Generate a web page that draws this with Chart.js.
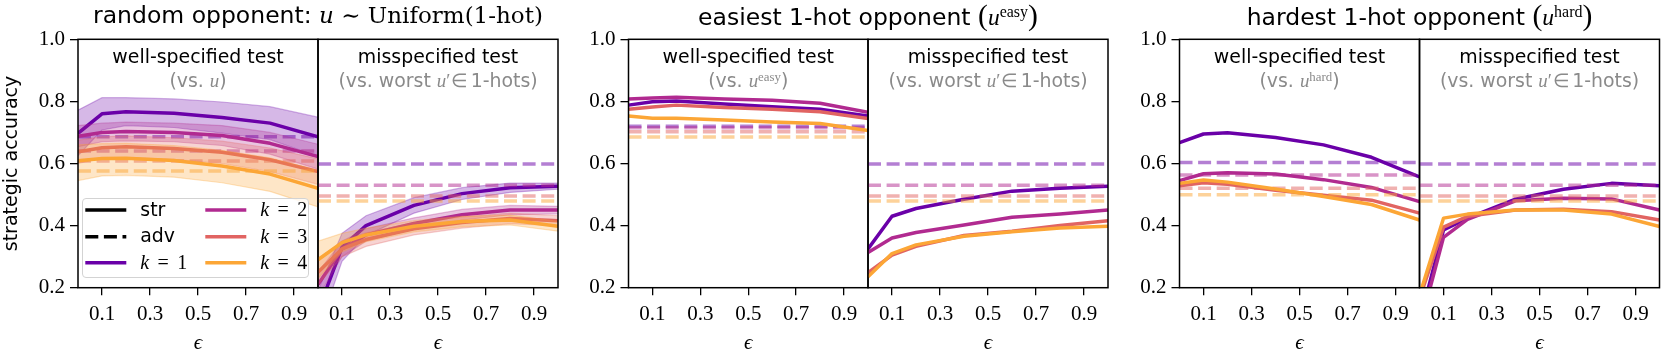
<!DOCTYPE html>
<html>
<head>
<meta charset="utf-8">
<script src="https://cdn.jsdelivr.net/npm/chart.js@4.4.0/dist/chart.umd.min.js"></script>
<style>
html, body { margin: 0; padding: 0; background: #fff; }
#wrap { position: relative; width: 1661px; height: 352px; overflow: hidden; font-family: 'DejaVu Sans'; color: #000; }
#wrap canvas { position: absolute; top: 0; }
.t { position: absolute; white-space: nowrap; line-height: 1em; transform: translateX(-50%); }
.l { position: absolute; white-space: nowrap; line-height: 1em; }
.m { font-family: 'Liberation Serif'; }
.mi { font-family: 'Liberation Serif'; font-style: italic; }
.dm { font-family: 'DejaVu Serif'; font-size: 98%; }
.dmi { font-family: 'DejaVu Serif'; font-style: italic; font-size: 98%; }
.big { font-size: 126%; }
.gray { color: #8a8a8a; }
sup.m { font-size: 68%; vertical-align: 0.5em; line-height: 0; }
.eq { margin: 0 0.42em; }
.rel { margin: 0 0.12em 0 0.05em; }
#leg { position: absolute; left: 82px; top: 198px; width: 227px; height: 80px; box-sizing: border-box;
       border: 1.2px solid #d3d3d3; border-radius: 4px; background: rgba(255,255,255,0.8); }
#hand { position: absolute; left: 0; top: 0; }
</style>
</head>
<body>
<div id="wrap"></div>
<script>
// eixo x (epsilon) e ticks
const eps = [0, 0.1, 0.2, 0.4, 0.6, 0.8, 1.0];
const xTicks = [0.1, 0.3, 0.5, 0.7, 0.9];
const yTicks = [0.2, 0.4, 0.6, 0.8, 1.0];
const kNames = ['1', '2', '3', '4'];

// random opponent - well-specified (com faixas)
const randWell_k1 = [0.697, 0.760, 0.767, 0.762, 0.748, 0.730, 0.686];
const randWell_k2 = [0.688, 0.700, 0.703, 0.700, 0.690, 0.665, 0.622];
const randWell_k3 = [0.638, 0.651, 0.654, 0.648, 0.636, 0.612, 0.574];
const randWell_k4 = [0.609, 0.616, 0.617, 0.610, 0.592, 0.566, 0.520];
const randWell_k1_hi = [0.772, 0.812, 0.812, 0.808, 0.798, 0.783, 0.749];
const randWell_k1_lo = [0.625, 0.708, 0.722, 0.716, 0.698, 0.677, 0.623];
const randWell_k2_hi = [0.722, 0.730, 0.733, 0.730, 0.722, 0.700, 0.662];
const randWell_k2_lo = [0.654, 0.670, 0.673, 0.670, 0.658, 0.630, 0.582];
const randWell_k3_hi = [0.675, 0.686, 0.689, 0.683, 0.672, 0.650, 0.615];
const randWell_k3_lo = [0.600, 0.616, 0.619, 0.613, 0.600, 0.574, 0.533];
const randWell_k4_hi = [0.660, 0.664, 0.665, 0.658, 0.642, 0.618, 0.578];
const randWell_k4_lo = [0.545, 0.560, 0.562, 0.556, 0.538, 0.510, 0.460];
const randWell_adv = [0.686, 0.640, 0.608, 0.576];

// random opponent - misspecified
const randMis_k1 = [0.125, 0.330, 0.400, 0.465, 0.503, 0.522, 0.527];
const randMis_k2 = [0.210, 0.325, 0.370, 0.407, 0.435, 0.450, 0.450];
const randMis_k3 = [0.250, 0.325, 0.355, 0.390, 0.410, 0.423, 0.416];
const randMis_k4 = [0.290, 0.345, 0.370, 0.398, 0.413, 0.418, 0.398];
const randMis_k1_hi = [0.190, 0.375, 0.432, 0.490, 0.522, 0.537, 0.537];
const randMis_k1_lo = [0.060, 0.285, 0.368, 0.440, 0.484, 0.507, 0.517];
const randMis_k2_hi = [0.250, 0.350, 0.390, 0.425, 0.452, 0.465, 0.462];
const randMis_k2_lo = [0.170, 0.300, 0.350, 0.389, 0.418, 0.435, 0.438];
const randMis_k3_hi = [0.290, 0.350, 0.377, 0.410, 0.428, 0.440, 0.432];
const randMis_k3_lo = [0.210, 0.300, 0.333, 0.370, 0.392, 0.406, 0.400];
const randMis_k4_hi = [0.350, 0.375, 0.392, 0.416, 0.430, 0.434, 0.414];
const randMis_k4_lo = [0.230, 0.315, 0.348, 0.380, 0.396, 0.402, 0.382];
const randMis_adv = [0.598, 0.530, 0.495, 0.479];

// easiest 1-hot
const easyWell_k1 = [0.788, 0.799, 0.801, 0.792, 0.783, 0.775, 0.753];
const easyWell_k2 = [0.808, 0.811, 0.813, 0.808, 0.804, 0.794, 0.765];
const easyWell_k3 = [0.775, 0.782, 0.788, 0.780, 0.775, 0.767, 0.745];
const easyWell_k4 = [0.753, 0.746, 0.746, 0.740, 0.734, 0.729, 0.706];
const easyWell_adv = [0.720, 0.715, 0.702, 0.685];
const easyMis_k1 = [0.325, 0.430, 0.455, 0.485, 0.511, 0.520, 0.527];
const easyMis_k2 = [0.313, 0.360, 0.378, 0.402, 0.427, 0.437, 0.450];
const easyMis_k3 = [0.248, 0.305, 0.333, 0.368, 0.382, 0.400, 0.416];
const easyMis_k4 = [0.235, 0.310, 0.338, 0.366, 0.380, 0.392, 0.398];
const easyMis_adv = [0.598, 0.530, 0.495, 0.479];

// hardest 1-hot
const hardWell_k1 = [0.667, 0.695, 0.699, 0.684, 0.660, 0.620, 0.557];
const hardWell_k2 = [0.545, 0.567, 0.570, 0.566, 0.548, 0.523, 0.477];
const hardWell_k3 = [0.528, 0.538, 0.533, 0.514, 0.498, 0.482, 0.440];
const hardWell_k4 = [0.536, 0.547, 0.540, 0.518, 0.494, 0.468, 0.418];
const hardWell_adv = [0.603, 0.563, 0.520, 0.499];
const hardMis_k1 = [0.090, 0.386, 0.424, 0.485, 0.517, 0.536, 0.528];
const hardMis_k2 = [0.070, 0.362, 0.420, 0.480, 0.488, 0.486, 0.450];
const hardMis_k3 = [0.165, 0.395, 0.430, 0.450, 0.453, 0.445, 0.418];
const hardMis_k4 = [0.175, 0.424, 0.437, 0.450, 0.450, 0.437, 0.397];
const hardMis_adv = [0.598, 0.530, 0.495, 0.479];

const kCores = [[106, 0, 168], [177, 42, 144], [225, 100, 98], [252, 166, 54]];

const H = 352, TOPO = 39.3, BASE = 287.7;
const wrap = document.getElementById('wrap');

function rgba(c, a) { return `rgba(${c[0]},${c[1]},${c[2]},${a})`; }
function pts(ys) { return eps.map((x, i) => ({ x: x, y: ys[i] })); }

const paineis = [
  { L: 78, R: 318, ylab: true, first: true,
    lines: [randWell_k1, randWell_k2, randWell_k3, randWell_k4], adv: randWell_adv,
    bands: [[randWell_k1_hi, randWell_k1_lo], [randWell_k2_hi, randWell_k2_lo], [randWell_k3_hi, randWell_k3_lo], [randWell_k4_hi, randWell_k4_lo]] },
  { L: 318, R: 558, ylab: false,
    lines: [randMis_k1, randMis_k2, randMis_k3, randMis_k4], adv: randMis_adv,
    bands: [[randMis_k1_hi, randMis_k1_lo], [randMis_k2_hi, randMis_k2_lo], [randMis_k3_hi, randMis_k3_lo], [randMis_k4_hi, randMis_k4_lo]] },
  { L: 628.5, R: 868, ylab: true,
    lines: [easyWell_k1, easyWell_k2, easyWell_k3, easyWell_k4], adv: easyWell_adv },
  { L: 868, R: 1108, ylab: false,
    lines: [easyMis_k1, easyMis_k2, easyMis_k3, easyMis_k4], adv: easyMis_adv },
  { L: 1179.5, R: 1419.5, ylab: true,
    lines: [hardWell_k1, hardWell_k2, hardWell_k3, hardWell_k4], adv: hardWell_adv },
  { L: 1419.5, R: 1659.5, ylab: false,
    lines: [hardMis_k1, hardMis_k2, hardMis_k3, hardMis_k4], adv: hardMis_adv }
];

// moldura preta em volta da area
const moldura = {
  id: 'moldura',
  afterDraw(chart) {
    const { ctx, chartArea: a } = chart;
    ctx.save();
    ctx.strokeStyle = '#000';
    ctx.lineWidth = 1.5;
    ctx.strokeRect(a.left, a.top, a.right - a.left, a.bottom - a.top);
    ctx.restore();
  }
};

const fonteTick = { family: 'Liberation Serif', size: 21 };

function criarPainel(p) {
  const left = p.first ? 0 : (p.ylab ? Math.floor(p.L) - 60 : Math.floor(p.L) - 2);
  const right = Math.ceil(p.R) + 2;
  const cv = document.createElement('canvas');
  cv.width = right - left;
  cv.height = H;
  cv.style.left = left + 'px';
  wrap.appendChild(cv);
  const yw = p.L - left;

  const ds = [];
  let seq = 0;
  for (let k = 0; k < 4; k++) {
    const c = kCores[k];
    if (p.bands) {
      ds.push({ data: pts(p.bands[k][0]), borderColor: rgba(c, 0.3), borderWidth: 1.2, pointRadius: 0,
                fill: false, clip: 0, order: 1000 - seq++ });
      ds.push({ data: pts(p.bands[k][1]), borderColor: rgba(c, 0.3), borderWidth: 1.2, pointRadius: 0,
                backgroundColor: rgba(c, 0.28), fill: '-1', clip: 0, order: 1000 - seq++ });
    }
    ds.push({ data: pts(p.lines[k]), borderColor: rgba(c, 1), borderWidth: 3.5, pointRadius: 0,
              borderJoinStyle: 'round', fill: false, clip: 0, order: 1000 - seq++ });
    ds.push({ data: [{ x: 0, y: p.adv[k] }, { x: 1, y: p.adv[k] }], borderColor: rgba(c, 0.5), borderWidth: 3.5,
              borderDash: [13, 5.6], pointRadius: 0, fill: false, clip: 0, order: 1000 - seq++ });
  }

  new Chart(cv.getContext('2d'), {
    type: 'line',
    data: { datasets: ds },
    options: {
      responsive: false,
      animation: false,
      devicePixelRatio: 1,
      layout: { padding: { top: TOPO, right: right - p.R, left: 0, bottom: 0 } },
      plugins: { legend: { display: false }, tooltip: { enabled: false }, title: { display: false } },
      scales: {
        x: {
          type: 'linear', min: 0, max: 1,
          afterBuildTicks: a => { a.ticks = xTicks.map(v => ({ value: v })); },
          ticks: { callback: v => Number(v).toFixed(1), font: fonteTick, color: '#000', padding: 7, maxRotation: 0, autoSkip: false },
          grid: { drawOnChartArea: false, drawTicks: true, tickLength: 7.5, color: '#000', lineWidth: 1.3 },
          border: { display: false },
          title: { display: true, text: 'ϵ', color: '#000', padding: 0,
                   font: { family: "'Liberation Serif', 'DejaVu Serif'", style: 'italic', size: 21, lineHeight: 0.8 } },
          afterFit: s => { s.height = H - BASE; }
        },
        y: {
          type: 'linear', min: 0.2, max: 1.0,
          afterBuildTicks: a => { a.ticks = yTicks.map(v => ({ value: v })); },
          ticks: { display: p.ylab, callback: v => Number(v).toFixed(1), font: fonteTick, color: '#000', padding: 5 },
          grid: { display: p.ylab, drawOnChartArea: false, drawTicks: true, tickLength: 8, color: '#000', lineWidth: 1.3 },
          border: { display: false },
          title: p.first
            ? { display: true, text: 'strategic accuracy', color: '#000', padding: { top: 1, bottom: 0 },
                font: { family: 'DejaVu Sans', size: 19, lineHeight: 1.2 } }
            : { display: false },
          afterFit: s => { s.width = yw; }
        }
      }
    },
    plugins: [moldura]
  });
}

paineis.forEach(criarPainel);

// textos (titulos e subtitulos)
function texto(html, cx, baseline, size, cls) {
  const d = document.createElement('div');
  d.className = cls || 't';
  d.style.fontSize = size + 'px';
  d.style.left = cx + 'px';
  d.style.top = (baseline - 0.846 * size) + 'px';
  d.innerHTML = html;
  wrap.appendChild(d);
  return d;
}

const titulos = [
  'random opponent: <span class="dmi">u</span><span class="dm"> ∼ Uniform(1-hot)</span>',
  'easiest 1-hot opponent <span class="m big">(</span><span class="mi">u</span><sup class="m">easy</sup><span class="m big">)</span>',
  'hardest 1-hot opponent <span class="m big">(</span><span class="mi">u</span><sup class="m">hard</sup><span class="m big">)</span>'
];
const subBem = [
  '(vs. <span class="mi">u</span>)',
  '(vs. <span class="mi">u</span><sup class="m">easy</sup>)',
  '(vs. <span class="mi">u</span><sup class="m">hard</sup>)'
];
const subMal = '(vs. worst <span class="mi">u</span><span class="m">′<span class="rel">∈</span></span>1-hots)';

for (let g = 0; g < 3; g++) {
  const pw = paineis[2 * g], pm = paineis[2 * g + 1];
  texto(titulos[g], pw.R, 24, 23.5);
  texto('well-specified test', (pw.L + pw.R) / 2, 63.3, 18.9);
  texto('<span class="gray">' + subBem[g] + '</span>', (pw.L + pw.R) / 2, 86.8, 18.9);
  texto('misspecified test', (pm.L + pm.R) / 2, 63.3, 18.9);
  texto('<span class="gray">' + subMal + '</span>', (pm.L + pm.R) / 2, 86.8, 18.9);
}

// legenda
const leg = document.createElement('div');
leg.id = 'leg';
wrap.appendChild(leg);
const ns = 'http://www.w3.org/2000/svg';
const svg = document.createElementNS(ns, 'svg');
svg.setAttribute('id', 'hand');
svg.setAttribute('width', 1661);
svg.setAttribute('height', 352);
wrap.appendChild(svg);

const legItens = [
  { cor: '#000', dash: null, txt: 'str', col: 0, row: 0 },
  { cor: '#000', dash: '13 5.6', txt: 'adv', col: 0, row: 1 },
  { cor: rgba(kCores[0], 1), dash: null, txt: kNames[0], col: 0, row: 2, k: true },
  { cor: rgba(kCores[1], 1), dash: null, txt: kNames[1], col: 1, row: 0, k: true },
  { cor: rgba(kCores[2], 1), dash: null, txt: kNames[2], col: 1, row: 1, k: true },
  { cor: rgba(kCores[3], 1), dash: null, txt: kNames[3], col: 1, row: 2, k: true }
];
const rowsY = [210, 236.7, 262.7];
const colsX = [[85.3, 126.3, 140.3], [205.3, 246.3, 260.3]];
legItens.forEach(it => {
  const y = rowsY[it.row], cx = colsX[it.col];
  const ln = document.createElementNS(ns, 'line');
  ln.setAttribute('x1', cx[0]); ln.setAttribute('x2', cx[1]);
  ln.setAttribute('y1', y); ln.setAttribute('y2', y);
  ln.setAttribute('stroke', it.cor);
  ln.setAttribute('stroke-width', 3.5);
  if (it.dash) ln.setAttribute('stroke-dasharray', it.dash);
  svg.appendChild(ln);
  const s = it.k ? 20 : 18.9;
  const html = it.k
    ? '<span class="mi">k</span><span class="m"><span class="eq">=</span>' + it.txt + '</span>'
    : it.txt;
  texto(html, cx[2], y + 0.3 * s, s, 'l');
});
</script>
</body>
</html>
